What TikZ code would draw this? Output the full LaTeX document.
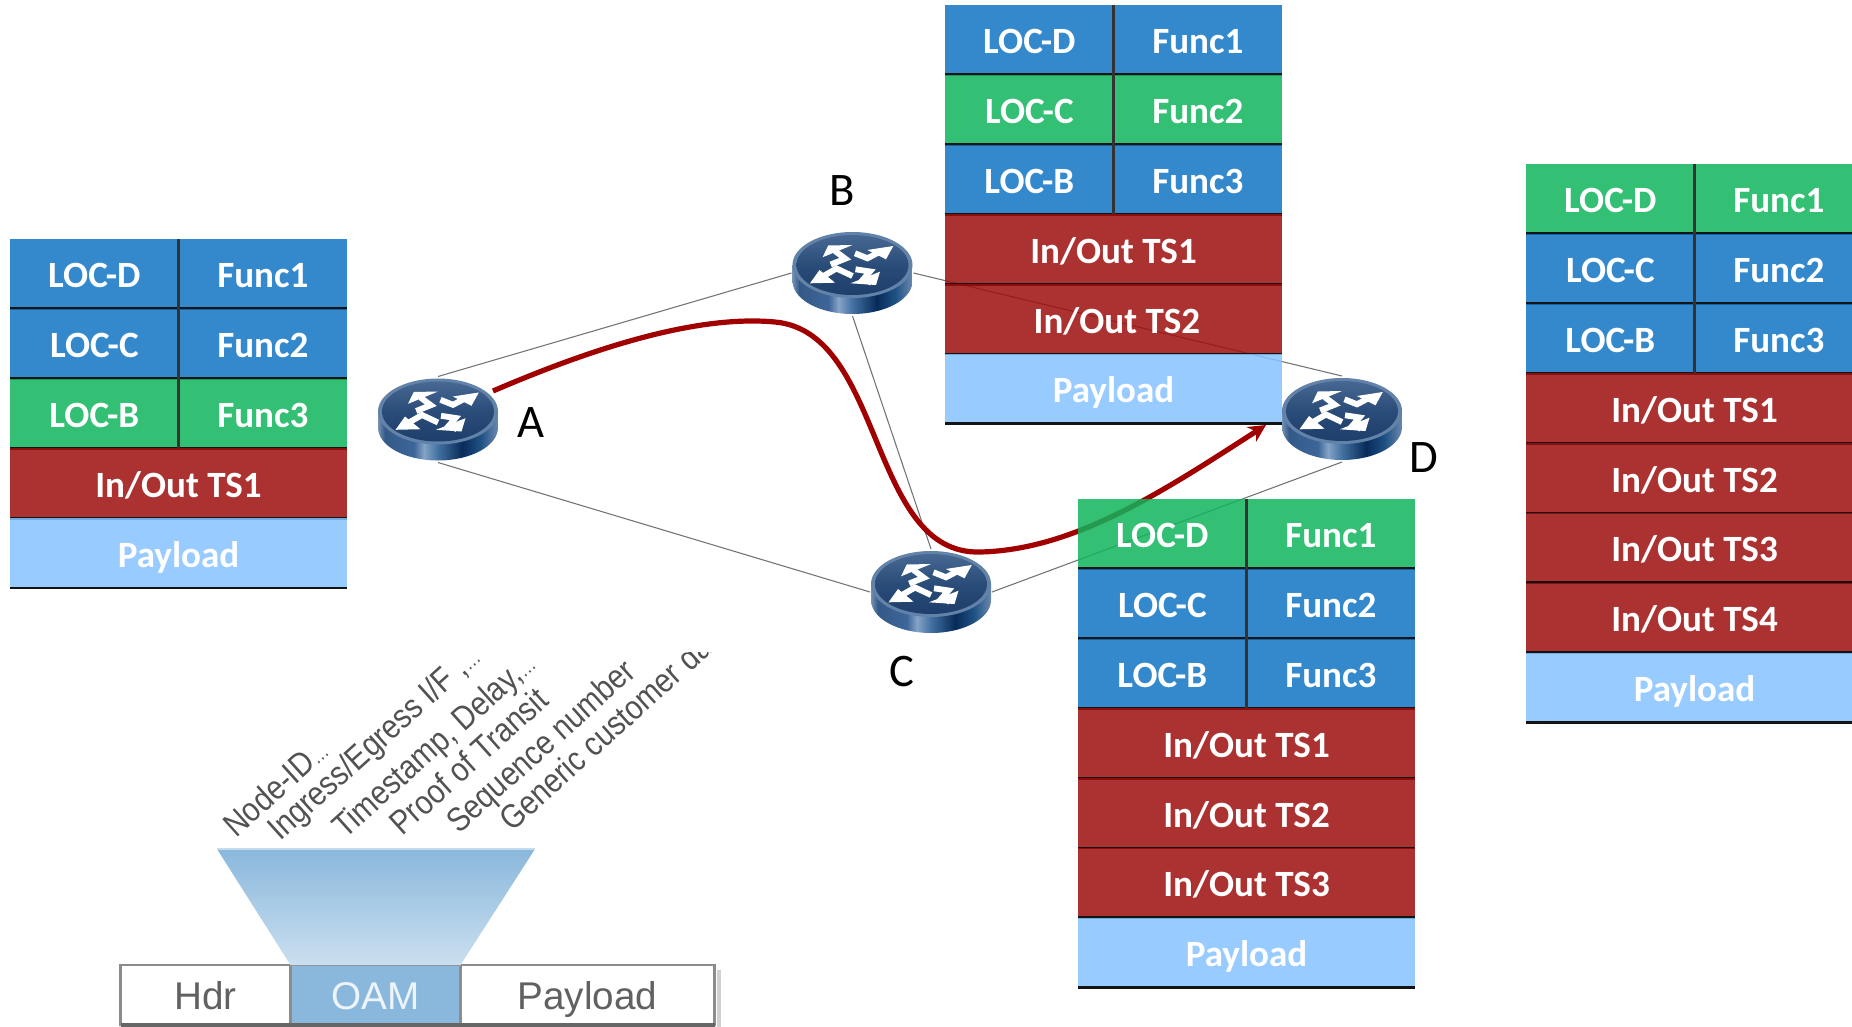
\documentclass[tikz,border=0pt]{standalone}
\usepackage{fontspec}
\setmainfont{Carlito}
\newfontfamily\armf{Liberation Sans}
\usetikzlibrary{arrows.meta}
\definecolor{cellblue}{RGB}{17,117,196}
\definecolor{cellgreen}{RGB}{16,180,92}
\definecolor{cellred}{RGB}{158,14,14}
\definecolor{cellpay}{RGB}{135,195,255}
\definecolor{curvered}{RGB}{160,0,0}
\definecolor{oamblue}{RGB}{138,184,220}
\definecolor{rimblue}{RGB}{98,130,168}
\definecolor{facetop}{RGB}{70,104,146}
\definecolor{facemid}{RGB}{42,76,120}
\definecolor{facelow}{RGB}{30,62,108}
\definecolor{sidea}{rgb}{0.45,0.57,0.70}
\definecolor{sideb}{rgb}{0.20,0.35,0.53}
\definecolor{sidec}{rgb}{0.24,0.40,0.60}
\definecolor{sided}{rgb}{0.52,0.64,0.78}
\definecolor{sidee}{rgb}{0.26,0.44,0.63}
\definecolor{sidef}{rgb}{0.03,0.17,0.35}
\definecolor{sideg}{rgb}{0.12,0.32,0.52}
\definecolor{sideh}{rgb}{0.42,0.54,0.68}
\tikzset{
  cell/.style={anchor=north west,inner sep=0pt,outer sep=0pt,minimum height=52.35pt,
    fill opacity=.85,text opacity=1,text=white,text height=21pt,text depth=0pt,
    font=\fontsize{27.8}{27.8}\selectfont\bfseries},
  rowline/.style={draw=black!92,line width=2.2pt},
  colline/.style={draw=black!80,line width=2pt},
  routernode/.style={inner sep=0pt,outer sep=0pt,minimum width=91.5pt,minimum height=64.5pt},
  link/.style={draw=black!55,line width=.8pt},
  flow/.style={draw=curvered,line width=3.9pt,-{Stealth[length=13pt,width=13pt]}},
  routerlabel/.style={font=\fontsize{35}{35}\selectfont,text=black},
  oamlabel/.style={anchor=base west,rotate=42,inner sep=0pt,text=black!68,
    font=\armf\fontsize{22}{22}\selectfont},
  barcell/.style={anchor=north west,inner sep=0pt,outer sep=0pt,minimum height=45pt,
    draw=black!45,line width=2pt,text height=21pt,text depth=0pt,
    font=\armf\fontsize{29}{29}\selectfont},
  whitearrow/.style={draw=white,line width=4.4pt,line join=miter}
}
\newcommand\stackstart[2]{\def\sx{#1}\def\sy{#2}}
\newcommand\nextrow{\pgfmathsetmacro\sy{\sy+69.8}}
\newcommand\smalldots{{\fontsize{13}{13}\selectfont…}}
\newcommand\tallglyphs[1]{\scalebox{1}[1.15]{#1}}
\newcommand\locrow[4]{%
  \node[cell,fill=#2,minimum width=126.5pt] (#1l) at (\sx,\sy) {#3};
  \node[cell,fill=#2,minimum width=126.25pt] (#1r) at (#1l.north east) {#4};
  \draw[rowline] (#1l.south west) -- (#1r.south east);
  \draw[colline] (#1l.north east) -- (#1l.south east);
  \nextrow}
\newcommand\widerow[3]{%
  \node[cell,fill=#2,minimum width=252.75pt] (#1) at (\sx,\sy) {#3};
  \draw[rowline] (#1.south west) -- (#1.south east);
  \nextrow}
\newcommand\sideband[4]{\shade[left color=#3,right color=#4] (#1,-12) rectangle (#2,45);}
\newcommand\routerart[1]{%
  \begin{scope}[shift={(#1.center)}]
    \begin{scope}
      \clip (-60,-8) -- (-60,8) arc[start angle=180,end angle=0,x radius=60,y radius=33] -- (60,-8) -- cycle;
      \sideband{-60}{-53}{sidea}{sideb}
      \sideband{-53}{-24}{sideb}{sidec}
      \sideband{-24}{-14}{sidec}{sided}
      \sideband{-14}{0}{sided}{sidee}
      \sideband{0}{24}{sidee}{sidef}
      \sideband{24}{43}{sidef}{sideg}
      \sideband{43}{60}{sideg}{sideh}
    \end{scope}
    \fill[rimblue] (0,-8) ellipse[x radius=60,y radius=33];
    \shade[top color=facetop,bottom color=facelow,middle color=facemid] (0,-8) ellipse[x radius=56,y radius=30];
    \draw[whitearrow] (-21.8,-8.5) -- (-7.2,-14.3) -- (-17.5,-22);
    \fill[white] (-24.2,-27.5) -- (-30,-15.7) -- (0,-28) -- cycle;
    \draw[whitearrow] (2.5,-19.7) -- (15,-14.7) -- (27.5,-21.3);
    \fill[white] (40.8,-27) -- (14.8,-23) -- (33.5,-13.7) -- cycle;
    \draw[whitearrow] (0,3) -- (-16,-4.5) -- (-33,5.3);
    \fill[white] (-42.5,10.3) -- (-33,-3) -- (-17.5,9.7) -- cycle;
    \draw[whitearrow] (3,-3.7) -- (17.5,-1.5) -- (11,6) -- (19,9.7);
    \fill[white] (23.5,12) -- (27.5,-1.3) -- (-2,10.3) -- cycle;
  \end{scope}}
\begin{document}
\begin{tikzpicture}[x=.75pt,y=-.75pt]
\clip (0,0) rectangle (1852,1027);
\fill[white] (0,0) rectangle (1852,1027);
% routers as nodes
\node[routernode] (A) at (438,419.5) {};
\node[routernode] (B) at (852.5,273) {};
\node[routernode] (C) at (931,592) {};
\node[routernode] (D) at (1342,419) {};
% links
\draw[link] (A.north) -- (B.west);
\draw[link] (B.east) -- (D.north);
\draw[link] (B.south) -- (C.north);
\draw[link] (A.south) -- (C.west);
\draw[link] (C.east) -- (D.south);
% flow
\coordinate (flowstart) at (493,391);
\coordinate (flowend) at (1266,425);
\draw[flow] (flowstart) .. controls (600,345) and (700,315) .. (775,322)
  .. controls (885,332) and (868,555) .. (980,552)
  .. controls (1075,550) and (1165,490) .. (flowend);
% router art
\routerart{A}\routerart{B}\routerart{C}\routerart{D}
% labels
\node[routerlabel] (la) at (531,423) {A};
\node[routerlabel] (lb) at (842,191) {B};
\node[routerlabel] (lc) at (902,672) {C};
\node[routerlabel] (ld) at (1424,458) {D};
% stack at A
\stackstart{10}{239}
\locrow{aone}{cellblue}{LOC-D}{Func1}
\locrow{atwo}{cellblue}{LOC-C}{Func2}
\locrow{athree}{cellgreen}{LOC-B}{Func3}
\widerow{afour}{cellred}{In/Out TS1}
\widerow{afive}{cellpay}{Payload}
% stack at B
\stackstart{945}{5}
\locrow{bone}{cellblue}{LOC-D}{Func1}
\locrow{btwo}{cellgreen}{LOC-C}{Func2}
\locrow{bthree}{cellblue}{LOC-B}{Func3}
\widerow{bfour}{cellred}{In/Out TS1}
\widerow{bfive}{cellred}{\hspace{5pt}In/Out TS2}
\widerow{bsix}{cellpay}{Payload}
% stack at C
\stackstart{1078}{499}
\locrow{cone}{cellgreen}{LOC-D}{Func1}
\locrow{ctwo}{cellblue}{LOC-C}{Func2}
\locrow{cthree}{cellblue}{LOC-B}{Func3}
\widerow{cfour}{cellred}{In/Out TS1}
\widerow{cfive}{cellred}{In/Out TS2}
\widerow{csix}{cellred}{In/Out TS3}
\widerow{cseven}{cellpay}{Payload}
% stack at D
\stackstart{1526}{164}
\locrow{done}{cellgreen}{LOC-D}{Func1}
\locrow{dtwo}{cellblue}{LOC-C}{Func2}
\locrow{dthree}{cellblue}{LOC-B}{Func3}
\widerow{dfour}{cellred}{In/Out TS1}
\widerow{dfive}{cellred}{In/Out TS2}
\widerow{dsix}{cellred}{In/Out TS3}
\widerow{dseven}{cellred}{In/Out TS4}
\widerow{deight}{cellpay}{Payload}
% OAM fan
\fill[black!18] (717,970) rectangle (721,1027);
\node[barcell,fill=white,minimum width=127.5pt,text=black!62] (hdr) at (120.5,965) {Hdr};
\node[barcell,fill=oamblue,minimum width=127.5pt,text=white!85!oamblue] (oam) at (290.5,965) {OAM};
\node[barcell,fill=white,minimum width=190.5pt,text=black!62] (pay) at (460.5,965) {Payload};
\draw[black!60,line width=2.4pt] (hdr.south west) -- (pay.south east);
\shade[top color=oamblue,bottom color=oamblue!45!white] (217,849) -- (535,849) -- (oam.north east) -- (oam.north west) -- cycle;
\draw[oamblue!50!white,line width=1.5pt] (217,849) -- (535,849);
\begin{scope}
  \clip (150,652) rectangle (760,849);
  \node[oamlabel] (l1) at (236,839) {\tallglyphs{Node-ID\smalldots}};
  \node[oamlabel] (l2) at (280,842) {\tallglyphs{Ingress/Egress I/F ,\smalldots}};
  \node[oamlabel] (l3) at (345,840) {\tallglyphs{Timestamp, Delay,\smalldots}};
  \node[oamlabel] (l4) at (402,837) {\tallglyphs{Proof of Transit}};
  \node[oamlabel] (l5) at (459,835) {\tallglyphs{Sequence number}};
  \node[oamlabel] (l6) at (512,833) {\tallglyphs{Generic customer data}};
\end{scope}
\end{tikzpicture}
\end{document}
